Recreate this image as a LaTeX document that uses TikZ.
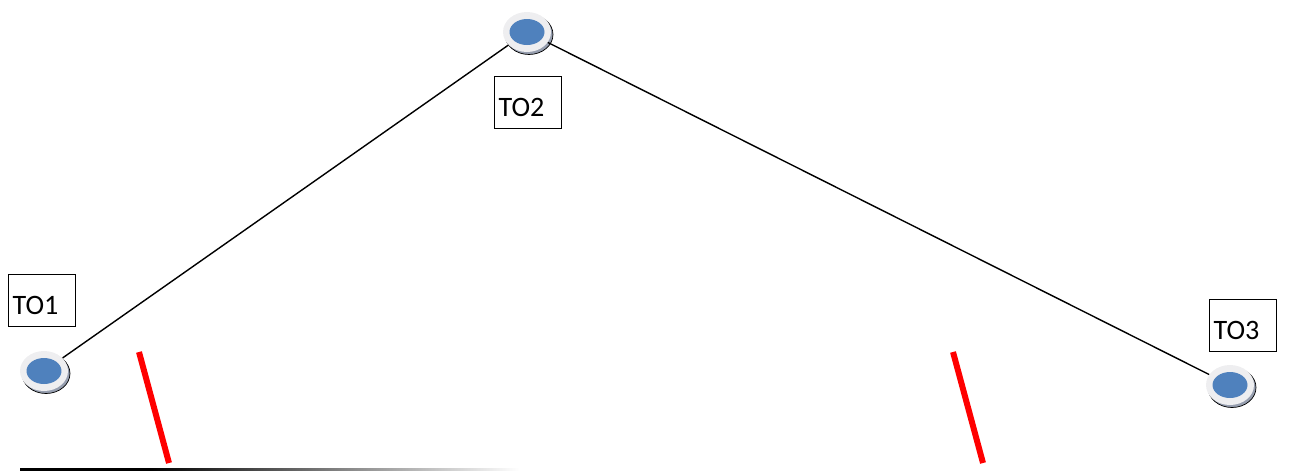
\documentclass[tikz,border=0pt]{standalone}
\usepackage{fontspec}
\setmainfont{Carlito}
\usetikzlibrary{shapes.geometric,shadows}

\definecolor{tocore}{RGB}{79,129,189}
\definecolor{torim}{RGB}{238,238,240}
\definecolor{toshade}{RGB}{150,158,175}
\pgfdeclarehorizontalshading{basefade}{100bp}{color(0bp)=(black); color(37.5bp)=(black); color(73bp)=(white); color(100bp)=(white)}

\begin{document}
\begin{tikzpicture}[x=0.02cm, y=-0.02cm,
    station/.style={ellipse, inner sep=0pt, minimum width=0.96cm, minimum height=0.8cm,
      fill=torim, copy shadow={shadow xshift=0.04cm, shadow yshift=-0.05cm, fill=toshade}},
    tag/.style={draw, line width=0.7pt, anchor=north west, inner xsep=0.07cm, inner ysep=0pt,
      minimum width=1.34cm, minimum height=1.04cm, text width=1.18cm, align=left,
      text height=0.56cm, text depth=0pt, font=\fontsize{16}{18}\selectfont},
    link/.style={line width=0.8pt},
    cut/.style={red, line width=3.4pt}]
  \useasboundingbox (0,0) rectangle (1301,471);

  % stations
  \foreach \n/\x/\y in {1/44/371, 2/527/32, 3/1230/385} {
    \node[station] (to\n) at (\x,\y) {};
    \fill[tocore] (to\n) ellipse [x radius=0.35cm, y radius=0.26cm];
  }

  % labels
  \node[tag] (lbl1) at (8,274) {TO1};
  \node[tag] (lbl2) at (494,76) {TO2};
  \node[tag] (lbl3) at (1209,299) {TO3};

  % traverse
  \draw[link] (to1) -- (to2);
  \draw[link] (to2) -- (to3);

  % cuts
  \foreach \x in {139, 953} {
    \draw[cut] (\x,352) -- (\x+30,463);
  }

  % base
  \shade[shading=basefade] (20,468.5) rectangle (540,470.5);
\end{tikzpicture}
\end{document}
